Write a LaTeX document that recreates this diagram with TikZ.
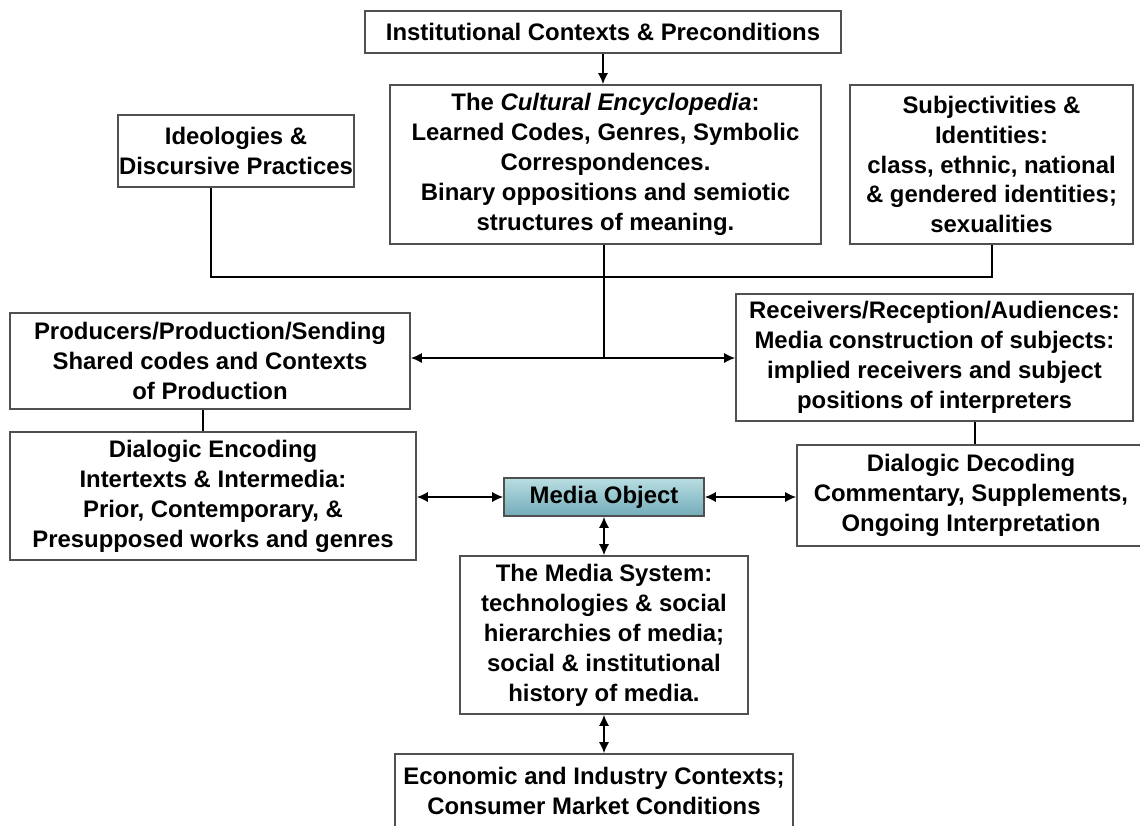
\documentclass[tikz,border=0pt]{standalone}
\usepackage{fontspec}
\setmainfont{Liberation Sans}
\usetikzlibrary{arrows.meta,positioning,calc}
\definecolor{boxgray}{RGB}{80,80,80}
\definecolor{mobjtop}{RGB}{185,222,226}
\definecolor{mobjbot}{RGB}{115,172,185}

\begin{document}
\begin{tikzpicture}[
    box/.style={rectangle, draw=boxgray, line width=1.1pt, fill=white, align=center,
                inner sep=0pt, font=\bfseries\fontsize{17}{21.3}\selectfont},
    link/.style={line width=1.4pt, black},
    arr/.style={link, -{Latex[length=2.8mm,width=2.6mm]}},
    dbl/.style={link, {Latex[length=2.8mm,width=2.6mm]}-{Latex[length=2.8mm,width=2.6mm]}}]
    \useasboundingbox (0,0) rectangle (28.5,-20.625);
    \clip (0,0) rectangle (28.5,-20.625);
    \fill[white] (0,0) rectangle (28.5,-20.625);
    % top row
    \node[box, minimum width=11.9cm, minimum height=1.05cm] (inst) at (15.075,-0.8)
        {Institutional Contexts \& Preconditions};
    \node[box, minimum width=10.775cm, minimum height=3.975cm] (cult) at (15.1375,-4.1125)
        {The \textit{Cultural Encyclopedia}:\\Learned Codes, Genres, Symbolic\\Correspondences.\\Binary oppositions and semiotic\\structures of meaning.};
    \node[box, minimum width=5.9cm, minimum height=1.8cm] (ideo) at (5.9,-3.775)
        {Ideologies \&\\Discursive Practices};
    \node[box, minimum width=7.075cm, minimum height=3.975cm] (subj) at (24.7875,-4.1125)
        {Subjectivities \&\\Identities:\\class, ethnic, national\\\& gendered identities;\\sexualities};
    % middle
    \node[box, minimum width=10cm, minimum height=2.4cm] (prod) at (5.25,-9.025)
        {Producers/Production/Sending\\Shared codes and Contexts\\of Production};
    \node[box, minimum width=9.925cm, minimum height=3.175cm] (recv) at (23.3625,-8.9375)
        {Receivers/Reception/Audiences:\\Media construction of subjects:\\implied receivers and subject\\positions of interpreters};
    \node[box, minimum width=10.15cm, minimum height=3.2cm] (enc) at (5.325,-12.4)
        {Dialogic Encoding\\Intertexts \& Intermedia:\\Prior, Contemporary, \&\\Presupposed works and genres};
    \node[box, minimum width=8.7cm, minimum height=2.525cm] (dec) at (24.275,-12.3875)
        {Dialogic Decoding\\Commentary, Supplements,\\Ongoing Interpretation};
    \node[box, top color=mobjtop, bottom color=mobjbot, minimum width=5cm, minimum height=0.95cm] (mobj) at (15.1,-12.425)
        {Media Object};
    % bottom
    \node[box, minimum width=7.2cm, minimum height=3.95cm] (msys) at (15.1,-15.875)
        {The Media System:\\technologies \& social\\hierarchies of media;\\social \& institutional\\history of media.};
    \node[box, minimum width=9.95cm, minimum height=1.85cm] (econ) at (14.85,-19.775)
        {Economic and Industry Contexts;\\Consumer Market Conditions};

    \coordinate (bus) at (15.1,-6.925);
    \coordinate (hub) at (15.1,-8.95);
    \coordinate (ideojoin) at ([xshift=-6.25mm]ideo.south);
    \coordinate (prodjoin) at ([xshift=-1.75mm]prod.south);
    \coordinate (decjoin) at ([xshift=1mm]dec.north);

    \draw[arr] (inst.south) -- (inst.south |- cult.north);
    \draw[link] (ideojoin) |- (bus) -| (subj.south);
    \draw[link] (cult.south -| hub) -- (hub);
    \draw[dbl] (prod.east |- hub) -- (recv.west |- hub);
    \draw[link] (prodjoin) -- (prodjoin |- enc.north);
    \draw[link] (decjoin) -- (decjoin |- recv.south);
    \draw[dbl] (enc.east |- mobj.west) -- (mobj.west);
    \draw[dbl] (mobj.east) -- (dec.west |- mobj.east);
    \draw[dbl] (mobj.south) -- (msys.north);
    \draw[dbl] (msys.south) -- (msys.south |- econ.north);
\end{tikzpicture}
\end{document}
